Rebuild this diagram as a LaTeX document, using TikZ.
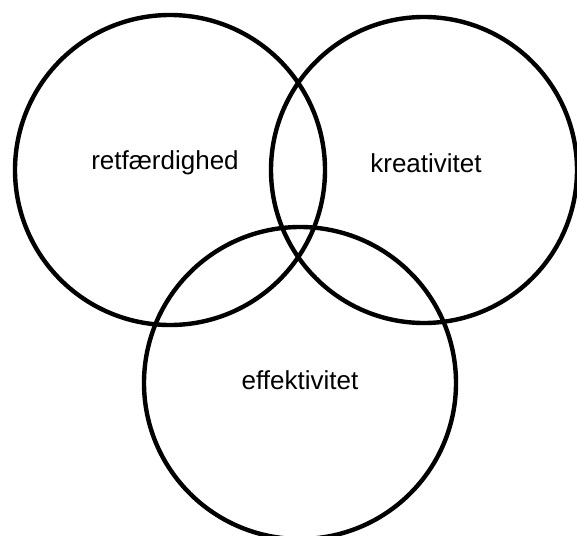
\documentclass[tikz,border=0pt]{standalone}
\usepackage{fontspec}
\setmainfont{Liberation Sans}
\begin{document}
\begin{tikzpicture}[x=1pt,y=-1pt,
  ring/.style={draw=black,line width=4.4pt,circle,inner sep=0pt},
  lbl/.style={font=\fontsize{26}{31}\selectfont}]
\useasboundingbox (0,0) rectangle (577,535);
\clip (0,0) rectangle (577,535);
\fill[white] (0,0) rectangle (577,535);
\node[ring,minimum size=310pt] (c1) at (170,170) {};
\node[ring,minimum size=306pt] (c2) at (424,170) {};
\node[ring,minimum size=312pt] (c3) at (300,383) {};
\node[lbl] (t1) at (165,163) {retfærdighed};
\node[lbl] (t2) at (426,163) {kreativitet};
\node[lbl] (t3) at (300,380) {effektivitet};
\end{tikzpicture}
\end{document}
